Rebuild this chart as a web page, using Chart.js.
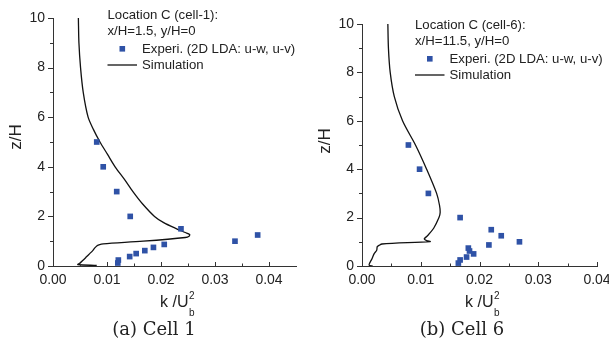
<!DOCTYPE html>
<html lang="en">
<head>
<meta charset="UTF-8">
<title>k profiles at Location C</title>
<script src="https://cdn.jsdelivr.net/npm/chart.js"></script>
<style>
    body { margin: 0; width: 609px; height: 349px; overflow: hidden; background: #fff; position: relative; }
    canvas { position: absolute; top: 0; }
</style>
</head>
<body>
<canvas id="cell1" width="305" height="349" style="left:0"></canvas>
<canvas id="cell6" width="330" height="349" style="left:305px"></canvas>

<script>
// Cell 1 (x/H=1.5) - experiment
const expK1 = [0.0081, 0.0093, 0.0118, 0.0143, 0.0237, 0.0379, 0.0337, 0.0206, 0.0186, 0.0170, 0.0154, 0.0142, 0.0121, 0.0120];
const expZ1 = [5.0, 4.0, 3.0, 2.0, 1.5, 1.25, 1.0, 0.87, 0.75, 0.62, 0.5, 0.38, 0.24, 0.12];
// Cell 1 - simulation profile (top to bottom)
const simZ1 = [10, 9, 8, 7, 6, 5.5, 5, 4.5, 4, 3.5, 3, 2.5, 2, 1.75, 1.5, 1.35, 1.27, 1.2, 1.15, 1.0, 0.89, 0.85, 0.81, 0.72, 0.63, 0.5, 0.37, 0.22, 0.12, 0.06, 0.02];
const simK1 = [0.0047, 0.0048, 0.0051, 0.0056, 0.0065, 0.0075, 0.0087, 0.0101, 0.0115, 0.0132, 0.0148, 0.0166, 0.0188, 0.0205, 0.0229, 0.0245, 0.0253, 0.0252, 0.0245, 0.0167, 0.0093, 0.0085, 0.0081, 0.0077, 0.0074, 0.0068, 0.0062, 0.0055, 0.0050, 0.0046, 0.0081];

// Cell 6 (x/H=11.5) - experiment
const expK6 = [0.0079, 0.0098, 0.0113, 0.0167, 0.0220, 0.0237, 0.0268, 0.0216, 0.0181, 0.0183, 0.0190, 0.0178, 0.0167, 0.0164];
const expZ6 = [5.0, 4.0, 3.0, 2.0, 1.5, 1.25, 1.0, 0.87, 0.74, 0.62, 0.5, 0.37, 0.25, 0.12];
// Cell 6 - simulation profile
const simZ6 = [10, 9, 8, 7, 6, 5, 4, 3, 2.5, 2.2, 2.0, 1.56, 1.24, 1.12, 1.05, 1.01, 0.91, 0.85, 0.8, 0.65, 0.52, 0.3, 0.04, 0.0];
const simK6 = [0.0044, 0.0045, 0.0048, 0.0055, 0.0069, 0.0091, 0.0110, 0.0127, 0.0132, 0.0133, 0.0131, 0.0122, 0.0111, 0.0106, 0.0110, 0.0116, 0.0034, 0.0029, 0.0026, 0.0025, 0.0021, 0.0017, 0.0012, 0.0018];

// axis ticks
const xTicks = [0, 0.01, 0.02, 0.03, 0.04];
const xMinor1 = [0.005, 0.015, 0.025, 0.035];
const xMinor6 = [0.005, 0.015, 0.025, 0.035];
const zTicks = [0, 2, 4, 6, 8, 10];
const zMinor = [1, 3, 5, 7, 9];

const SANS = '"Liberation Sans", Arial, sans-serif';
const SERIF = '"DejaVu Serif", serif';
const BLUE = '#2f52a6';

function toPoints(xs, ys) {
    return xs.map((x, i) => ({ x: x, y: ys[i] }));
}

// draws tick marks, axis titles, the in-plot legend and caption
function decorations(o) {
    return {
        id: 'decor',
        afterDraw(chart) {
            const ctx = chart.ctx;
            const xs = chart.scales.x, ys = chart.scales.y;
            const a = chart.chartArea;
            ctx.save();
            ctx.strokeStyle = '#333';
            ctx.lineWidth = 1;
            ctx.beginPath();
            zTicks.forEach(v => { const p = Math.round(ys.getPixelForValue(v)) + 0.5; ctx.moveTo(a.left - 5, p); ctx.lineTo(a.left, p); });
            zMinor.forEach(v => { const p = Math.round(ys.getPixelForValue(v)) + 0.5; ctx.moveTo(a.left - 3, p); ctx.lineTo(a.left, p); });
            xTicks.forEach(v => { const p = Math.round(xs.getPixelForValue(v)) + 0.5; ctx.moveTo(p, a.bottom); ctx.lineTo(p, a.bottom - 4); });
            o.xMinor.forEach(v => { const p = Math.round(xs.getPixelForValue(v)) + 0.5; ctx.moveTo(p, a.bottom); ctx.lineTo(p, a.bottom - 2.5); });
            ctx.stroke();

            ctx.fillStyle = '#222';
            // y title
            ctx.save();
            ctx.translate(o.yTitleX, o.yTitleY);
            ctx.rotate(-Math.PI / 2);
            ctx.font = '17px ' + SANS;
            ctx.textAlign = 'center';
            ctx.textBaseline = 'middle';
            ctx.fillText('z/H', 0, 0);
            ctx.restore();

            // x title k/U_b^2
            ctx.textAlign = 'left';
            ctx.textBaseline = 'alphabetic';
            ctx.font = '16px ' + SANS;
            ctx.fillText('k /U', o.xTitleX, 307);
            const w = ctx.measureText('k /U').width;
            ctx.font = '10px ' + SANS;
            ctx.fillText('2', o.xTitleX + w + 0.5, 299);
            ctx.fillText('b', o.xTitleX + w + 0.5, 316);

            // legend
            ctx.font = '13.2px ' + SANS;
            ctx.textBaseline = 'middle';
            ctx.fillText(o.loc, o.lx, o.ly);
            ctx.fillText(o.pos, o.lx, o.ly + 16.5);
            ctx.fillStyle = BLUE;
            ctx.fillRect(o.lx + 12, o.ly + 31, 5.6, 5.6);
            ctx.fillStyle = '#222';
            ctx.fillText('Experi. (2D LDA: u-w, u-v)', o.lx + 34.5, o.ly + 34);
            ctx.strokeStyle = '#111';
            ctx.lineWidth = 1.3;
            ctx.beginPath();
            ctx.moveTo(o.lx, o.ly + 50);
            ctx.lineTo(o.lx + 29.5, o.ly + 50);
            ctx.stroke();
            ctx.fillText('Simulation', o.lx + 34.5, o.ly + 50);

            // caption
            ctx.font = '18px ' + SERIF;
            ctx.textAlign = 'center';
            ctx.textBaseline = 'alphabetic';
            ctx.fillText(o.caption, o.capX, 335);
            ctx.restore();
        }
    };
}

function makeChart(id, o) {
    return new Chart(document.getElementById(id), {
        type: 'scatter',
        data: {
            datasets: [
                {
                    label: 'Experi. (2D LDA: u-w, u-v)',
                    data: toPoints(o.expK, o.expZ),
                    pointStyle: 'rect',
                    pointRadius: 4,
                    backgroundColor: BLUE,
                    borderWidth: 0,
                    order: 0
                },
                {
                    label: 'Simulation',
                    data: toPoints(o.simK, o.simZ),
                    showLine: true,
                    pointRadius: 0,
                    borderColor: '#111',
                    borderWidth: 1.3,
                    tension: 0.3,
                    order: 1
                }
            ]
        },
        options: {
            responsive: false,
            animation: false,
            layout: { padding: { left: 0, right: o.padRight, top: o.padTop, bottom: 43 } },
            plugins: { legend: { display: false }, tooltip: { enabled: false } },
            scales: {
                x: {
                    type: 'linear',
                    min: 0,
                    max: o.xMax,
                    afterBuildTicks: s => { s.ticks = xTicks.map(v => ({ value: v })); },
                    afterFit: s => { s.height = 40; },
                    grid: { display: false, drawTicks: false },
                    border: { display: true, color: '#333', width: 1 },
                    ticks: {
                        padding: 6,
                        autoSkip: false,
                        maxRotation: 0,
                        color: '#222',
                        font: { size: 14, family: SANS },
                        callback: v => v.toFixed(2)
                    }
                },
                y: {
                    type: 'linear',
                    min: 0,
                    max: 10,
                    afterBuildTicks: s => { s.ticks = zTicks.map(v => ({ value: v })); },
                    afterFit: s => { s.width = o.yWidth; },
                    grid: { display: false, drawTicks: false },
                    border: { display: true, color: '#333', width: 1 },
                    ticks: {
                        padding: 8,
                        color: '#222',
                        font: { size: 14, family: SANS },
                        callback: v => String(v)
                    }
                }
            }
        },
        plugins: [decorations(o)]
    });
}

makeChart('cell1', {
    expK: expK1, expZ: expZ1, simK: simK1, simZ: simZ1,
    xMax: 0.045, xMinor: xMinor1,
    yWidth: 53, padRight: 9, padTop: 18,
    yTitleX: 16, yTitleY: 137, xTitleX: 160,
    loc: 'Location C (cell-1):', pos: 'x/H=1.5, y/H=0', lx: 107.5, ly: 15,
    caption: '(a) Cell 1', capX: 154
});

makeChart('cell6', {
    expK: expK6, expZ: expZ6, simK: simK6, simZ: simZ6,
    xMax: 0.04, xMinor: xMinor6,
    yWidth: 57, padRight: 38, padTop: 24,
    yTitleX: 20, yTitleY: 141, xTitleX: 160,
    loc: 'Location C (cell-6):', pos: 'x/H=11.5, y/H=0', lx: 110, ly: 25,
    caption: '(b) Cell 6', capX: 157
});
</script>
</body>
</html>
